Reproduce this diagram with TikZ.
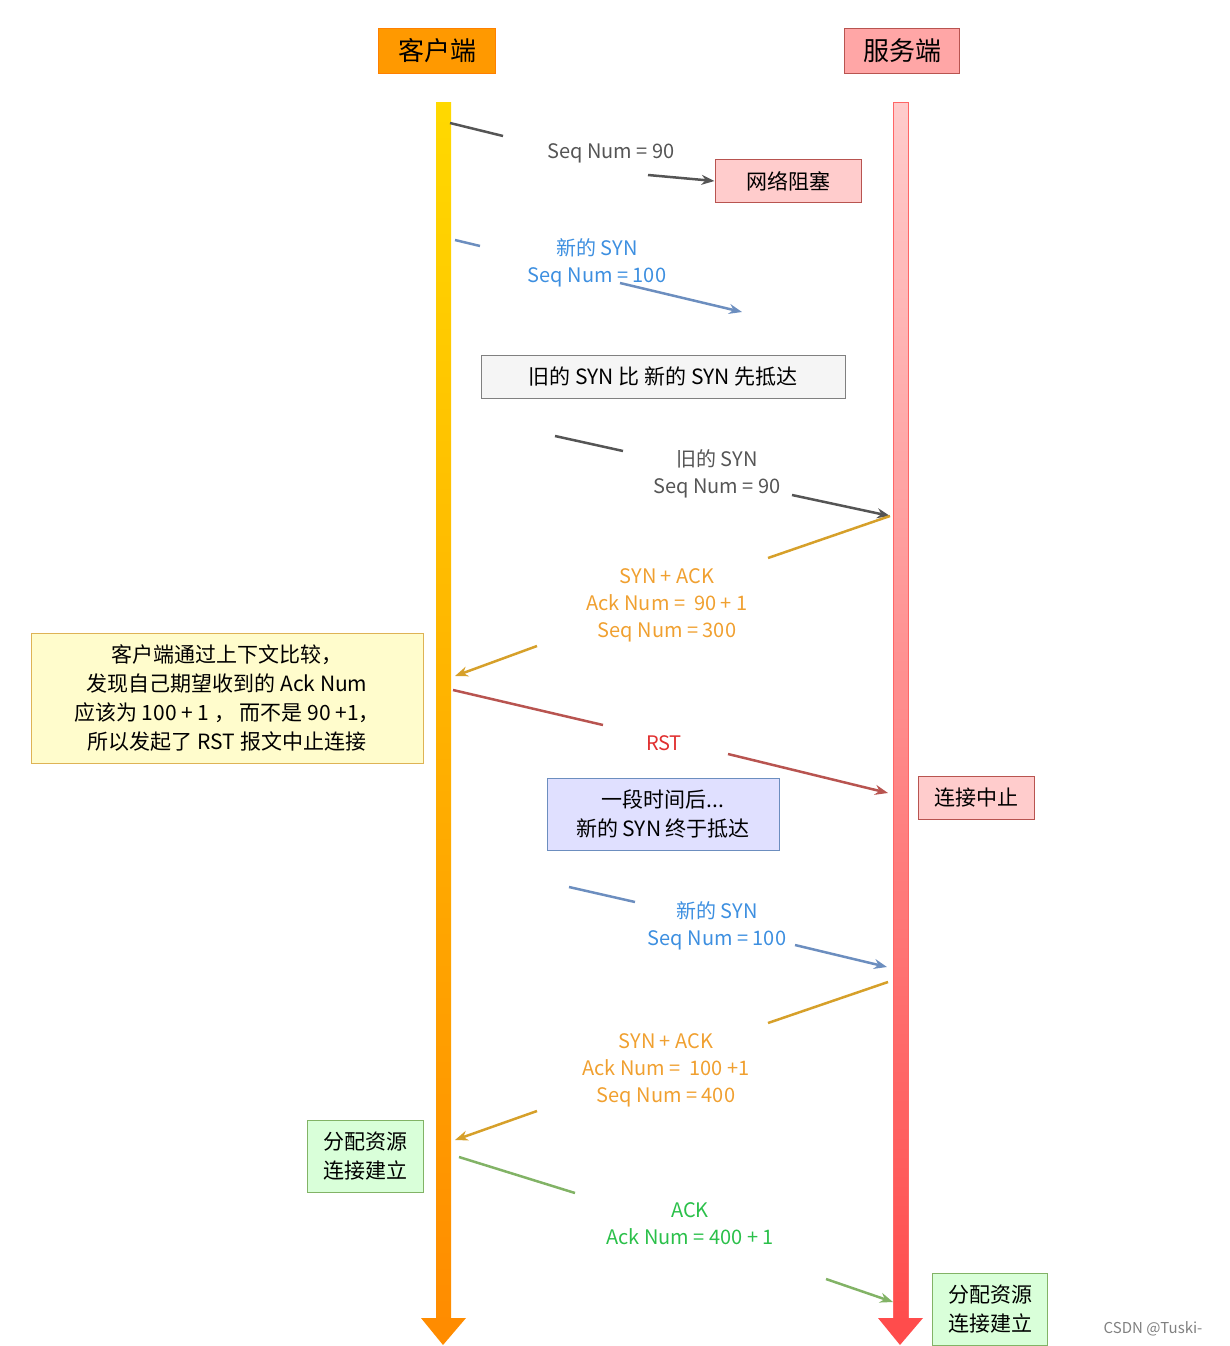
\documentclass[tikz,border=0pt]{standalone}
\usepackage{fontspec}
\setmainfont{Noto Sans CJK SC}
\usetikzlibrary{arrows.meta}
\definecolor{cgray}{HTML}{555555}
\definecolor{cblue}{HTML}{6C8EBF}
\definecolor{tblue}{HTML}{3D8FE0}
\definecolor{corange}{HTML}{D6A02A}
\definecolor{torange}{HTML}{F0A030}
\definecolor{cred}{HTML}{B85450}
\definecolor{tred}{HTML}{E03030}
\definecolor{cgreen}{HTML}{82B366}
\definecolor{tgreen}{HTML}{2BC04A}
\tikzset{
 msg/.style={line width=2.5pt,-{Stealth[length=13pt,width=10pt]}},
 seg/.style={line width=2.5pt},
 lbl/.style={align=center,font=\fontsize{20}{27}\selectfont},
 box/.style={draw,line width=1pt,align=center,font=\fontsize{21}{29}\selectfont,inner sep=0pt},
 pinkbox/.style={box,fill=red!20,draw=cred},
 greenbox/.style={box,fill=green!15!white,draw=cgreen},
}
\begin{document}
\begin{tikzpicture}[x=1pt,y=-1pt]
\useasboundingbox (0,0) rectangle (1230,1346);
% headers
\node[box,fill=orange!80!yellow,draw=orange,minimum width=117pt,minimum height=44pt,font=\fontsize{26}{30}\selectfont] (cli) at (437,51) {客户端};
\node[box,fill=red!35,draw=cred,minimum width=115pt,minimum height=44pt,font=\fontsize{26}{30}\selectfont] (srv) at (902,51) {服务端};
% lifelines
\shade[top color=yellow!70!orange,bottom color=orange!90!yellow] (436,102) rectangle (451,1320);
\fill[orange!90!yellow] (421,1318) -- (466,1318) -- (443,1345) -- cycle;
\shade[top color=red!20,bottom color=red!70] (893,102) rectangle (908,1320);
\draw[red!60,line width=0.8pt] (893,102) rectangle (908,1318);
\fill[red!70] (878,1318) -- (923,1318) -- (900,1345) -- cycle;
% 1
\node[pinkbox,minimum width=146pt,minimum height=43pt] (blk) at (788,181) {网络阻塞};
\coordinate (a1) at (450,123); \coordinate (a1b) at (503,136); \coordinate (a1c) at (648,175);
\draw[seg,cgray] (a1) -- (a1b); \draw[msg,cgray] (a1c) -- (blk.west);
\node[lbl,text=cgray] (l1) at (611,153) {Seq Num = 90};
% 2
\coordinate (b1) at (455,240); \coordinate (b1b) at (480,246); \coordinate (b1c) at (620,283); \coordinate (b1d) at (742,312);
\draw[seg,cblue] (b1) -- (b1b); \draw[msg,cblue] (b1c) -- (b1d);
\node[lbl,text=tblue] (l2) at (597,263) {新的 SYN\\Seq Num = 100};
\node[box,fill=gray!8,draw=gray,minimum width=364pt,minimum height=43pt] (note1) at (663,377) {旧的 SYN 比 新的 SYN 先抵达};
% 3
\coordinate (c1) at (555,436); \coordinate (c1b) at (623,451); \coordinate (c1c) at (792,495); \coordinate (c1d) at (890,516);
\draw[seg,cgray] (c1) -- (c1b); \draw[msg,cgray] (c1c) -- (c1d);
\node[lbl,text=cgray] (l3) at (717,474) {旧的 SYN\\Seq Num = 90};
% 4
\coordinate (d1) at (890,516); \coordinate (d1b) at (768,558); \coordinate (d1c) at (537,646); \coordinate (d1d) at (455,676);
\draw[seg,corange] (d1) -- (d1b); \draw[msg,corange] (d1c) -- (d1d);
\node[lbl,text=torange] (l4) at (667,605) {SYN + ACK\\Ack Num =\ \ 90 + 1\\Seq Num = 300};
\node[box,fill=yellow!20,draw=corange!80,minimum width=392pt,minimum height=130pt,font=\fontsize{21}{29}\selectfont] (note2) at (227,698) {客户端通过上下文比较，\\发现自己期望收到的 Ack Num\\应该为 100 + 1 ， 而不是 90 +1，\\所以发起了 RST 报文中止连接};
% 5
\node[pinkbox,minimum width=116pt,minimum height=43pt] (stop) at (976,798) {连接中止};
\coordinate (e1) at (453,690); \coordinate (e1b) at (603,725); \coordinate (e1c) at (728,754); \coordinate (e1d) at (888,793);
\draw[seg,cred] (e1) -- (e1b); \draw[msg,cred] (e1c) -- (e1d);
\node[lbl,text=tred] (l5) at (664,743) {RST};
\node[box,fill=blue!12,draw=cblue,minimum width=232pt,minimum height=72pt] (note3) at (663,814) {一段时间后...\\新的 SYN 终于抵达};
% 6
\coordinate (f1) at (569,887); \coordinate (f1b) at (635,902); \coordinate (f1c) at (795,945); \coordinate (f1d) at (887,967);
\draw[seg,cblue] (f1) -- (f1b); \draw[msg,cblue] (f1c) -- (f1d);
\node[lbl,text=tblue] (l6) at (717,926) {新的 SYN\\Seq Num = 100};
% 7
\coordinate (g1) at (888,982); \coordinate (g1b) at (768,1023); \coordinate (g1c) at (537,1111); \coordinate (g1d) at (455,1140);
\draw[seg,corange] (g1) -- (g1b); \draw[msg,corange] (g1c) -- (g1d);
\node[lbl,text=torange] (l7) at (666,1070) {SYN + ACK\\Ack Num =\ \ 100 +1\\Seq Num = 400};
\node[greenbox,minimum width=116pt,minimum height=72pt] (ok1) at (365,1156) {分配资源\\连接建立};
% 8
\coordinate (h1) at (459,1157); \coordinate (h1b) at (575,1193); \coordinate (h1c) at (826,1279); \coordinate (h1d) at (893,1302);
\draw[seg,cgreen] (h1) -- (h1b); \draw[msg,cgreen] (h1c) -- (h1d);
\node[lbl,text=tgreen] (l8) at (690,1224) {ACK\\Ack Num = 400 + 1};
\node[greenbox,minimum width=115pt,minimum height=72pt] (ok2) at (990,1309) {分配资源\\连接建立};
\node[font=\fontsize{15}{18}\selectfont,text=gray] (wm) at (1153,1329) {CSDN @Tuski-};
\end{tikzpicture}
\end{document}
